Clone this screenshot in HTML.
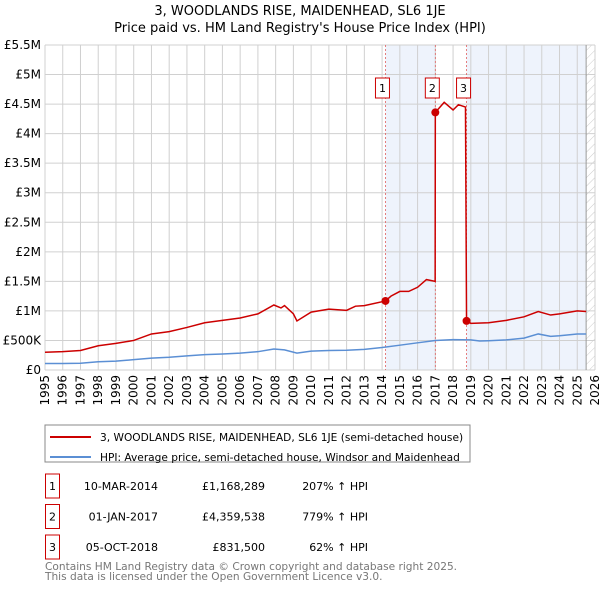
<!DOCTYPE html>
<html><head><meta charset="utf-8"><style>
body{margin:0;background:#fff;font-family:"Liberation Sans","DejaVu Sans",sans-serif}
svg text{font-family:"DejaVu Sans","Liberation Sans",sans-serif}
</style></head><body>
<svg id="c" width="600" height="590" xmlns="http://www.w3.org/2000/svg">
<text x="300" y="15" text-anchor="middle" font-size="13">3, WOODLANDS RISE, MAIDENHEAD, SL6 1JE</text>
<text x="300" y="32" text-anchor="middle" font-size="13">Price paid vs. HM Land Registry's House Price Index (HPI)</text>
<g id="plot"></g>
<rect x="45" y="425" width="425" height="37" fill="#fff" stroke="#888"/>
<line x1="50" y1="437" x2="91" y2="437" stroke="#cc0000" stroke-width="2"/>
<text x="100" y="441" font-size="10.6">3, WOODLANDS RISE, MAIDENHEAD, SL6 1JE (semi-detached house)</text>
<line x1="50" y1="457" x2="91" y2="457" stroke="#5b8fd4" stroke-width="2"/>
<text x="100" y="461" font-size="10.6">HPI: Average price, semi-detached house, Windsor and Maidenhead</text>
<g id="tbl"></g>
<text x="45" y="570" font-size="10.6" fill="#777">Contains HM Land Registry data © Crown copyright and database right 2025.</text>
<text x="45" y="580" font-size="10.6" fill="#777">This data is licensed under the Open Government Licence v3.0.</text>
</svg>
<script>
const hpiYears=[1995,1996,1997,1998,1999,2000,2001,2002,2003,2004,2005,2006,2007,2007.9,2008.5,2009.2,2010,2011,2012,2013,2014,2015,2016,2017,2018,2019,2019.5,2020,2021,2022,2022.8,2023.5,2024,2025,2025.5];
const hpiValues=[110,110,115,140,150,175,200,215,240,260,270,285,310,355,340,285,320,330,335,350,380,420,460,500,515,510,490,495,510,540,610,570,580,610,610];
const redYears=[1995,1996,1997,1998,1999,2000,2001,2002,2003,2004,2005,2006,2007,2007.9,2008.3,2008.5,2009,2009.2,2010,2011,2012,2012.5,2013,2014.19,2014.5,2015,2015.5,2016,2016.5,2016.99,2017.0,2017.5,2018,2018.3,2018.7,2018.76,2019,2020,2021,2022,2022.8,2023.5,2024,2025,2025.5];
const redValues=[300,310,330,410,450,500,610,650,720,800,840,880,950,1100,1050,1090,950,830,980,1030,1010,1080,1090,1168,1250,1330,1330,1400,1530,1500,4360,4530,4400,4490,4450,831.5,790,800,840,900,990,930,950,1000,990];
const saleYears=[2014.19,2017.0,2018.76];
const saleValues=[1168.289,4359.538,831.5];
const saleLabels=["1","2","3"];
const saleDates=["10-MAR-2014","01-JAN-2017","05-OCT-2018"];
const salePrices=["£1,168,289","£4,359,538","£831,500"];
const salePct=["207% ↑ HPI","779% ↑ HPI","62% ↑ HPI"];
const yTicks=[0,500,1000,1500,2000,2500,3000,3500,4000,4500,5000,5500];
const yTickLabels=["£0","£500K","£1M","£1.5M","£2M","£2.5M","£3M","£3.5M","£4M","£4.5M","£5M","£5.5M"];
const xTicks=[1995,1996,1997,1998,1999,2000,2001,2002,2003,2004,2005,2006,2007,2008,2009,2010,2011,2012,2013,2014,2015,2016,2017,2018,2019,2020,2021,2022,2023,2024,2025,2026];

const X0=45,X1=595,Y0=370,Y1=45;
const xs=y=>X0+(y-1995)/31*(X1-X0);
const ys=v=>Y0-v/5500*(Y0-Y1);
const NS="http://www.w3.org/2000/svg";
const g=document.getElementById('plot');
function mk(t,a,p){const e=document.createElementNS(NS,t);for(const k in a)e.setAttribute(k,a[k]);(p||g).appendChild(e);return e;}
let s1=mk('rect',{x:xs(saleYears[0]),y:Y1,width:xs(saleYears[1])-xs(saleYears[0]),height:Y0-Y1,fill:'#eef3fc'});


let s2=mk('rect',{x:xs(saleYears[2]),y:Y1,width:xs(2025.5)-xs(saleYears[2]),height:Y0-Y1,fill:'#eef3fc'});


const defs=mk('defs',{});
const pat=mk('pattern',{id:'h',width:6,height:6,patternUnits:'userSpaceOnUse',patternTransform:'rotate(45)'},defs);
mk('line',{x1:0,y1:0,x2:0,y2:6,stroke:'#ccc','stroke-width':1},pat);
let hz=mk('rect',{x:xs(2025.5),y:Y1,width:X1-xs(2025.5),height:Y0-Y1,fill:'url(#h)'});


xTicks.forEach((t,i)=>{
 let l=mk('line',{x1:xs(t),y1:Y1,x2:xs(t),y2:Y0,stroke:'#d0d0d0'});
 
 
 let tx=mk('text',{x:0,y:0,'font-size':12,'text-anchor':'end',transform:`translate(${xs(t)+4},${Y0+5}) rotate(-90)`});
 tx.textContent=t;
 
 
});
yTicks.forEach((t,i)=>{
 let l=mk('line',{x1:X0,y1:ys(t),x2:X1,y2:ys(t),stroke:'#d0d0d0'});
 
 
 let tx=mk('text',{x:X0-4,y:ys(t)+4,'font-size':12,'text-anchor':'end'});
 tx.textContent=yTickLabels[i];
 
 
});
let ax=mk('line',{x1:xs(2025.5),y1:Y1,x2:xs(2025.5),y2:Y0,stroke:'#999'});


saleYears.forEach((y,i)=>{
 let l=mk('line',{x1:xs(y),y1:Y1,x2:xs(y),y2:Y0,stroke:'#e06060','stroke-dasharray':'2,2','stroke-width':0.8});
 
 
 let r=mk('rect',{x:xs(y)-10,y:78,width:14,height:20,fill:'#fff',stroke:'#cc0000'});
 
 
 let t=mk('text',{x:xs(y)-3,y:92,'font-size':11,'text-anchor':'middle'});
 t.textContent=saleLabels[i];
 
 
});
let hp=mk('polyline',{points:hpiYears.map((y,i)=>xs(y)+','+ys(hpiValues[i])).join(' '),fill:'none',stroke:'#5b8fd4','stroke-width':1.5});


let rp=mk('polyline',{points:redYears.map((y,i)=>xs(y)+','+ys(redValues[i])).join(' '),fill:'none',stroke:'#cc0000','stroke-width':1.5});


saleYears.forEach((y,i)=>{
 let c=mk('circle',{cx:xs(y),cy:ys(saleValues[i]),r:4,fill:'#cc0000'});
 
 
});
const tb=document.getElementById('tbl');
saleLabels.forEach((l,i)=>{
 const cy=486+i*30.5;
 let r=mk('rect',{x:45.5,y:cy-12,width:14,height:24,fill:'#fff',stroke:'#cc0000'},tb);
 
 
 let a=mk('text',{x:52.5,y:cy+4,'font-size':11,'text-anchor':'middle'},tb);a.textContent=l;
 
 
 let d=mk('text',{x:158,y:cy+4,'font-size':11,'text-anchor':'end'},tb);d.textContent=saleDates[i];
 
 
 let p=mk('text',{x:265,y:cy+4,'font-size':11,'text-anchor':'end'},tb);p.textContent=salePrices[i];
 
 
 let q=mk('text',{x:368,y:cy+4,'font-size':11,'text-anchor':'end'},tb);q.textContent=salePct[i];
 
 
});
</script>
</body></html>
